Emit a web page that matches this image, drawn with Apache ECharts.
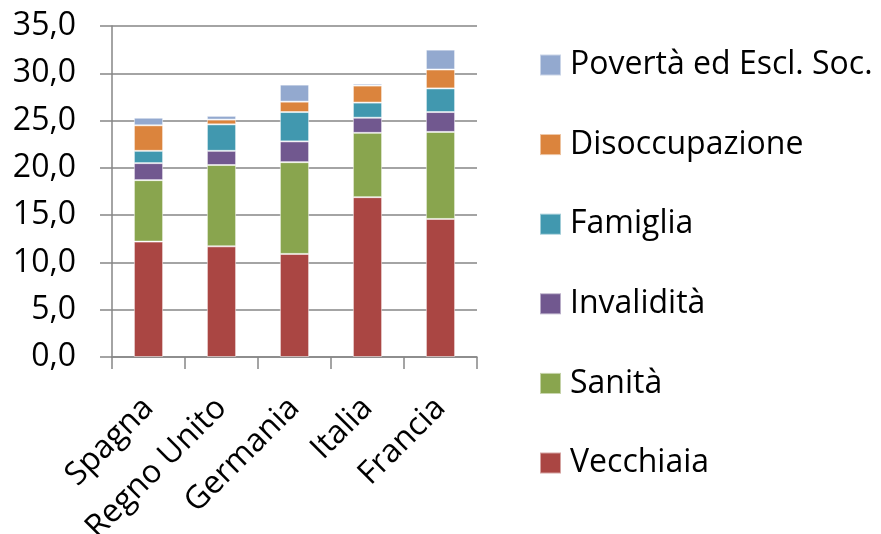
<!DOCTYPE html>
<html lang="it">

<head>
  <meta charset="UTF-8">
  <title>Spesa sociale</title>
  <script src="https://cdn.jsdelivr.net/npm/echarts@6/dist/echarts.min.js"></script>
  <style>
    html, body { margin: 0; padding: 0; background: #fff; }
    #main { width: 881px; height: 534px; }
  </style>
</head>

<body>
  <div id="main"></div>

  <script type="text/javascript">
    // paesi
    var paesi = ['Spagna', 'Regno Unito', 'Germania', 'Italia', 'Francia'];

    // valori per voce di spesa (dal basso verso l'alto)
    var vecchiaia = [12.2, 11.7, 10.9, 16.9, 14.6];
    var sanita = [6.5, 8.6, 9.7, 6.8, 9.2];
    var invalidita = [1.8, 1.5, 2.2, 1.6, 2.1];
    var famiglia = [1.3, 2.8, 3.1, 1.6, 2.5];
    var disoccupazione = [2.7, 0.5, 1.1, 1.8, 2.0];
    var poverta = [0.8, 0.4, 1.8, 0.2, 2.1];

    var yTicks = [0, 5, 10, 15, 20, 25, 30, 35];

    var font = 'Open Sans';
    var grigio = '#868686';

    function serie(nome, dati, colore) {
      return {
        name: nome,
        type: 'bar',
        stack: 'tot',
        data: dati,
        barCategoryGap: '60%',
        itemStyle: { color: colore, borderColor: 'rgba(255,255,255,0.5)', borderWidth: 1 }
      };
    }

    var myChart = echarts.init(document.getElementById('main'));
    var option = {
      animation: false,
      grid: { left: 112, right: 404, top: 26, bottom: 177, outerBoundsMode: 'none', containLabel: false },
      legend: {
        orient: 'vertical',
        left: 534,
        top: 40,
        itemWidth: 21,
        itemHeight: 21,
        itemGap: 39.6,
        icon: 'rect',
        data: ['Povertà ed Escl. Soc.', 'Disoccupazione', 'Famiglia', 'Invalidità', 'Sanità', 'Vecchiaia'],
        textStyle: { fontFamily: font, fontSize: 32, color: '#000', lineHeight: 40, padding: [0, 0, 0, 4] }
      },
      xAxis: {
        type: 'category',
        data: paesi,
        axisLine: { lineStyle: { color: grigio, width: 1.5 } },
        axisTick: { show: true, length: 12, lineStyle: { color: grigio, width: 1.5 } },
        axisLabel: { rotate: 45, margin: 46, fontFamily: font, fontSize: 32, color: '#000', interval: 0 }
      },
      yAxis: {
        type: 'value',
        min: yTicks[0],
        max: yTicks[yTicks.length - 1],
        interval: 5,
        axisLine: { show: true, lineStyle: { color: grigio, width: 1.5 } },
        axisTick: { show: true, length: 12, lineStyle: { color: grigio, width: 1.5 } },
        splitLine: { lineStyle: { color: grigio, width: 1.5 } },
        axisLabel: {
          margin: 36, fontFamily: font, fontSize: 32, color: '#000',
          formatter: function (v) { return v.toFixed(1).replace('.', ','); }
        }
      },
      series: [
        serie('Vecchiaia', vecchiaia, '#AA4643'),
        serie('Sanità', sanita, '#89A54E'),
        serie('Invalidità', invalidita, '#71588F'),
        serie('Famiglia', famiglia, '#4198AF'),
        serie('Disoccupazione', disoccupazione, '#DB843D'),
        serie('Povertà ed Escl. Soc.', poverta, '#93A9CF')
      ]
    };
    myChart.setOption(option);
  </script>
</body>

</html>
